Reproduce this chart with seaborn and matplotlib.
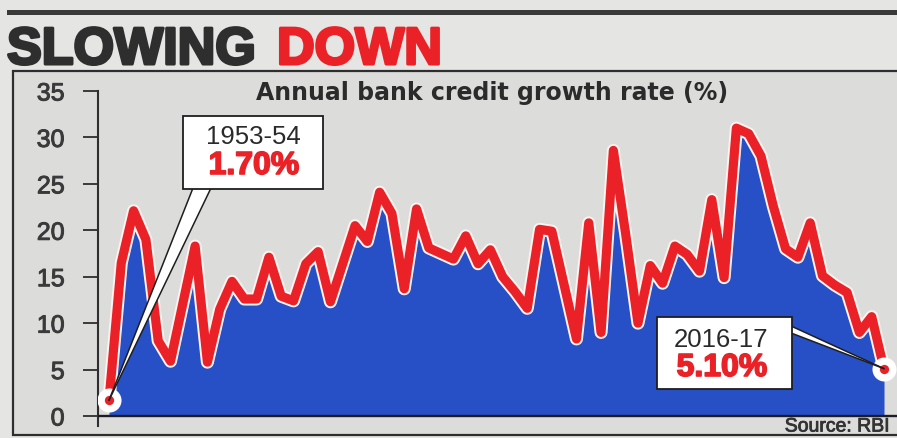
import matplotlib
matplotlib.use("Agg")
import matplotlib.pyplot as plt
import matplotlib.patheffects as pe
from matplotlib.patches import Rectangle, Polygon
from matplotlib.lines import Line2D
import seaborn as sns

# Annual bank credit growth rate (%), 1953-54 .. 2016-17 (Source: RBI)
years = list(range(1953, 2017))
growth = [
    1.7, 16.5, 22.1, 19.0, 8.1, 5.9, 12.1, 18.3, 5.8, 11.5,
    14.5, 12.6, 12.6, 17.1, 12.9, 12.4, 16.4, 17.7, 12.3, 16.4,
    20.5, 18.8, 24.1, 21.8, 13.7, 22.3, 18.1, 17.5, 16.9, 19.4,
    16.4, 17.9, 15.0, 13.4, 11.6, 20.1, 19.9, 14.1, 8.3, 20.8,
    9.0, 28.6, 19.6, 10.0, 16.2, 14.3, 18.3, 17.4, 15.6, 23.3,
    14.9, 31.0, 30.4, 28.0, 22.6, 18.0, 17.1, 20.8, 15.1, 14.1,
    13.3, 9.0, 10.7, 5.1,
]
yticks = [0, 5, 10, 15, 20, 25, 30, 35]

headline_dark = "SLOWING"
headline_red = "DOWN"
chart_title = "Annual bank credit growth rate (%)"
source_note = "Source: RBI"

PAPER = "#e5e5e3"
PANEL = "#dcdcdb"
INK = "#2e2e2e"
RED = "#ea2228"
BLUE = "#2850c6"

W, H = 897, 439
sns.set_style("white")
plt.rcParams["font.family"] = ["Liberation Sans", "DejaVu Sans"]

fig = plt.figure(figsize=(W / 100, H / 100), dpi=100)
fig.patch.set_facecolor(PAPER)


def fx(x):
    return x / W


def fy(y):
    return 1 - y / H


# top rule and headline
fig.add_artist(Rectangle((fx(7), fy(16)), fx(W - 7), 5 / H,
                         transform=fig.transFigure, color="#3a3a3a", lw=0))
fig.text(fx(7), fy(65), headline_dark, fontsize=37.5, fontweight="bold",
         color=INK, va="baseline", ha="left",
         path_effects=[pe.withStroke(linewidth=2.2, foreground=INK)])
fig.text(fx(277), fy(65), headline_red, fontsize=37.5, fontweight="bold",
         color=RED, va="baseline", ha="left",
         path_effects=[pe.withStroke(linewidth=2.2, foreground=RED)])

# panel frame
fig.add_artist(Rectangle((fx(13), fy(436)), fx(W + 10 - 13), (436 - 72) / H,
                         transform=fig.transFigure, facecolor=PANEL,
                         edgecolor=INK, lw=1.6, zorder=-1))

# plotting area: x step ~12.3 px; y from 0 at 417 px to 35 at 92 px
x_left_px, x0_px, x_step = 98, 109, 12.3
y0_px, y35_px, y_bottom_px = 417, 92, 427
ax = fig.add_axes([fx(x_left_px), fy(y_bottom_px), fx(W - x_left_px),
                   (y_bottom_px - y35_px) / H])
ax.set_facecolor("none")
ax.set_xlim(years[0] - (x0_px - x_left_px) / x_step,
            years[-1] + (W - 884) / x_step)
ax.set_ylim(-35 * (y_bottom_px - y0_px) / (y0_px - y35_px), 35)

ax.fill_between(years, growth, 0, color=BLUE, lw=0, zorder=2)
sns.lineplot(x=years, y=growth, ax=ax, color=RED, lw=6.6, zorder=3,
             solid_joinstyle="round", solid_capstyle="round",
             path_effects=[pe.Stroke(linewidth=9.4, foreground="#fbf3ef"),
                           pe.Normal()])
ax.axhline(0, color="#1c1c24", lw=1.7, zorder=4)

ends_x = [years[0], years[-1]]
ends_y = [growth[0], growth[-1]]
ax.scatter(ends_x, ends_y, s=300, color="white", lw=0, zorder=5)
ax.scatter(ends_x, ends_y, s=45, color=RED, lw=0, zorder=6)

ax.set_xticks([])
ax.set_yticks(yticks)
ax.set_yticklabels([str(t) for t in yticks])
ax.tick_params(axis="y", left=True, direction="out", length=11, width=1.3,
               color=INK, pad=13, labelsize=18, labelcolor="#3a3a3a")
for lab in ax.get_yticklabels():
    lab.set_path_effects([pe.withStroke(linewidth=0.7, foreground="#3a3a3a")])
for side in ["top", "right", "bottom"]:
    ax.spines[side].set_visible(False)
ax.spines["left"].set_color(INK)
ax.spines["left"].set_linewidth(1.5)

fig.text(fx(492), fy(93), chart_title, fontsize=17, fontweight="bold",
         family=["DejaVu Sans"], color="#2b2b2b", ha="center", va="center")
fig.text(fx(890), fy(428), source_note, fontsize=14, color="#333333",
         ha="right", va="center",
         path_effects=[pe.withStroke(linewidth=0.6, foreground="#333333")])


# callout boxes pointing at the first and last values
def tip_of(i):
    dx, dy = ax.transData.transform((years[i], growth[i]))
    return dx / W, dy / H


def callout(box, base_a, base_b, i, year_text, value_text, cx, cy1, cy2):
    l, t, r, b = box
    tx, ty = tip_of(i)
    a = (fx(base_a[0]), fy(base_a[1]))
    c = (fx(base_b[0]), fy(base_b[1]))
    fig.add_artist(Polygon([a, c, (tx, ty)], closed=True,
                           transform=fig.transFigure, facecolor="white",
                           edgecolor="none", zorder=7))
    for p in (a, c):
        fig.add_artist(Line2D([p[0], tx], [p[1], ty],
                              transform=fig.transFigure, color="#1e1e1e",
                              lw=1.1, zorder=8))
    fig.add_artist(Rectangle((fx(l), fy(b)), (r - l) / W, (b - t) / H,
                             transform=fig.transFigure, facecolor="white",
                             edgecolor="#1e1e1e", lw=1.3, zorder=9))
    fig.text(fx(cx), fy(cy1), year_text, fontsize=18.5, color="#2a2a2a",
             ha="center", va="center", zorder=10)
    fig.text(fx(cx + 1), fy(cy2), value_text, fontsize=23, fontweight="bold",
             color=RED, ha="center", va="center", zorder=10,
             path_effects=[pe.withStroke(linewidth=1.2, foreground=RED)])


def season(y):
    return f"{y}-{str(y + 1)[2:]}"


callout((183, 117, 323, 190), (193, 189), (211, 189), 0,
        season(years[0]), f"{growth[0]:.2f}%", 253, 137.5, 167)
callout((657, 318, 792, 390), (791, 327), (791, 334), len(years) - 1,
        season(years[-1]), f"{growth[-1]:.2f}%", 721, 340, 369)

fig.savefig("out.png", dpi=100, facecolor=fig.get_facecolor())
